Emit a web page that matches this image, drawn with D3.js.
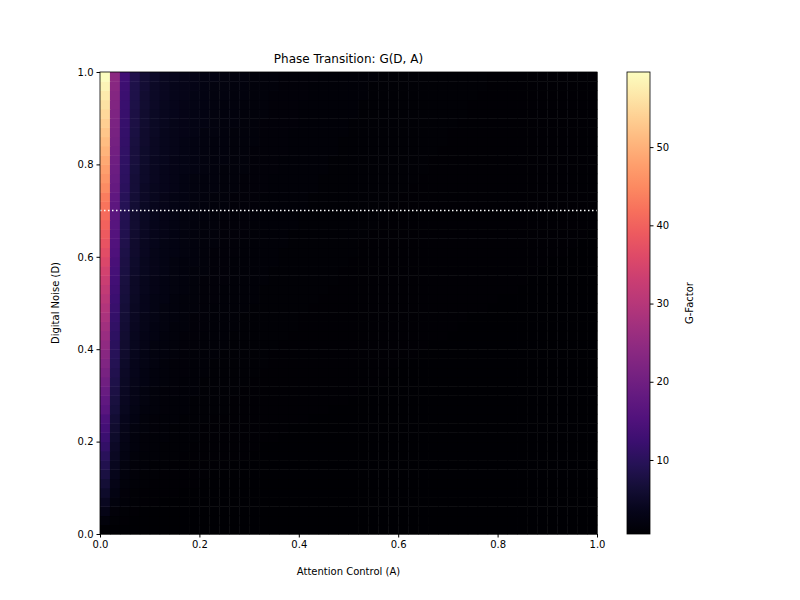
<!DOCTYPE html>
<html><head><meta charset="utf-8">
<script src="https://cdn.jsdelivr.net/npm/d3@7"></script>
<style>body{margin:0;background:#fff;font-family:"DejaVu Sans",sans-serif}</style>
</head><body><svg id="chart" width="800" height="600"></svg>
<script>
// G value along the top row (D = 1) for each attention column
const colTop = [59.6, 24, 13, 8.5, 6.3, 5, 4.2, 3.6, 3.2, 2.9, 2.6, 2.4, 2.25, 2.1, 2.0, 1.9, 1.8, 1.72, 1.65, 1.58,
  1.52, 1.47, 1.42, 1.38, 1.34, 1.3, 1.27, 1.24, 1.21, 1.18, 1.16, 1.14, 1.12, 1.1, 1.08, 1.06, 1.05, 1.03, 1.02, 1.0,
  0.99, 0.98, 0.96, 0.95, 0.94, 0.93, 0.92, 0.91, 0.9, 0.89];
// fraction of the top value reached in each noise row, bottom to top
const rowFrac = [0, .02, .04, .06, .08, .10, .12, .14, .16, .18, .20, .22, .24, .27, .29, .31, .33, .35, .37, .39,
  .41, .43, .45, .47, .49, .51, .53, .55, .57, .59, .61, .63, .65, .67, .69, .71, .73, .76, .78, .80,
  .82, .84, .86, .88, .90, .92, .94, .96, .98, 1];
const gMin = 0.54, gMax = 59.6;
const thresholdD = 0.7;
const xTicks = [0, 0.2, 0.4, 0.6, 0.8, 1.0];
const yTicks = [0, 0.2, 0.4, 0.6, 0.8, 1.0];
const cbTicks = [10, 20, 30, 40, 50];

const svg = d3.select('#chart');
const m = {l: 100, r: 597, t: 72, b: 534};
const x = d3.scaleLinear().domain([0, 1]).range([m.l, m.r]);
const y = d3.scaleLinear().domain([0, 1]).range([m.b, m.t]);
const color = d3.scaleSequential(d3.interpolateMagma).domain([gMin, gMax]);

const nC = colTop.length, nR = rowFrac.length;
const cells = [];
rowFrac.forEach((f, r) => colTop.forEach((t, c) => cells.push({r, c, v: gMin + (t - gMin) * f})));

svg.append('g').selectAll('rect').data(cells).enter().append('rect')
  .attr('x', d => x(d.c / nC))
  .attr('y', d => y((d.r + 1) / nR))
  .attr('width', x(1 / nC) - x(0) + 0.5)
  .attr('height', y(0) - y(1 / nR) + 0.5)
  .attr('fill', d => color(d.v));

svg.append('line')
  .attr('x1', x(0)).attr('x2', x(1))
  .attr('y1', y(thresholdD)).attr('y2', y(thresholdD))
  .attr('stroke', '#fff').attr('stroke-width', 1.5).attr('stroke-dasharray', '1.5,2.5');

svg.append('rect').attr('x', m.l).attr('y', m.t).attr('width', m.r - m.l).attr('height', m.b - m.t)
  .attr('fill', 'none').attr('stroke', '#000').attr('stroke-width', 0.8);

svg.append('g').attr('transform', `translate(0,${m.b})`)
  .call(d3.axisBottom(x).tickValues(xTicks).tickFormat(d3.format('.1f')).tickSize(3.5))
  .call(g => g.select('.domain').remove())
  .selectAll('text').attr('font-size', 10).attr('font-family', 'DejaVu Sans');
svg.append('g').attr('transform', `translate(${m.l},0)`)
  .call(d3.axisLeft(y).tickValues(yTicks).tickFormat(d3.format('.1f')).tickSize(3.5))
  .call(g => g.select('.domain').remove())
  .selectAll('text').attr('font-size', 10).attr('font-family', 'DejaVu Sans');

svg.append('text').attr('x', (m.l + m.r) / 2).attr('y', 63).attr('text-anchor', 'middle')
  .attr('font-size', 12).text('Phase Transition: G(D, A)');
svg.append('text').attr('x', (m.l + m.r) / 2).attr('y', 575).attr('text-anchor', 'middle')
  .attr('font-size', 10).text('Attention Control (A)');
svg.append('text').attr('transform', `translate(59,${(m.t + m.b) / 2}) rotate(-90)`).attr('text-anchor', 'middle')
  .attr('font-size', 10).text('Digital Noise (D)');

// colorbar
const cb = {l: 627, w: 23};
const cy = d3.scaleLinear().domain([gMin, gMax]).range([m.b, m.t]);
const defs = svg.append('defs');
const grad = defs.append('linearGradient').attr('id', 'cbg').attr('x1', 0).attr('x2', 0).attr('y1', 1).attr('y2', 0);
d3.range(0, 1.001, 0.05).forEach(t => grad.append('stop').attr('offset', t).attr('stop-color', d3.interpolateMagma(t)));
svg.append('rect').attr('x', cb.l).attr('y', m.t).attr('width', cb.w).attr('height', m.b - m.t)
  .attr('fill', 'url(#cbg)').attr('stroke', '#000').attr('stroke-width', 0.8);
svg.append('g').attr('transform', `translate(${cb.l + cb.w},0)`)
  .call(d3.axisRight(cy).tickValues(cbTicks).tickSize(3.5))
  .call(g => g.select('.domain').remove())
  .selectAll('text').attr('font-size', 10).attr('font-family', 'DejaVu Sans');
svg.append('text').attr('transform', `translate(693,${(m.t + m.b) / 2}) rotate(-90)`).attr('text-anchor', 'middle')
  .attr('font-size', 10).text('G-Factor');
</script></body></html>
